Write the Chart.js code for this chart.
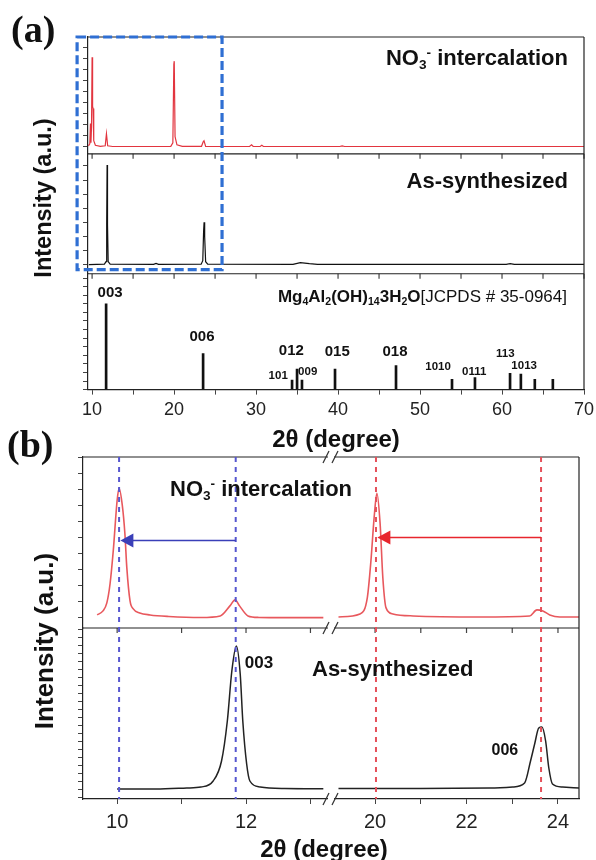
<!DOCTYPE html>
<html>
<head>
<meta charset="utf-8">
<script src="https://cdn.jsdelivr.net/npm/chart.js@4.4.1/dist/chart.umd.min.js"></script>
<style>
  body { margin: 0; background: #fff; }
  #page { position: relative; width: 596px; height: 860px; overflow: hidden; background: #fff; }
  canvas { position: absolute; }
  .t { position: absolute; font-family: 'Liberation Sans', Arial, sans-serif; font-weight: bold; color: #111; line-height: 1; white-space: nowrap; }
  .t sub, .t sup { font-size: 0.62em; line-height: 0; }
  .t sub { vertical-align: -0.3em; }
  .t sup { vertical-align: 0.6em; }
  .panel { font-family: 'Liberation Serif', 'Times New Roman', serif; font-size: 38px; color: #111; }
  .ytitle { transform: translate(-50%, -50%) rotate(-90deg); }
  .reg { font-weight: normal; }
</style>
</head>
<body>
<div id="page">
  <canvas id="chartA" width="596" height="458" style="left:0;top:0"></canvas>
  <canvas id="chartBL" width="333" height="400" style="left:0;top:440px"></canvas>
  <canvas id="chartBR" width="278" height="400" style="left:318px;top:440px"></canvas>

  <div class="t panel" style="left:11px;top:10px">(a)</div>
  <div class="t panel" style="left:7px;top:425px">(b)</div>

  <div class="t ytitle" style="left:44px;top:198px;font-size:23.5px">Intensity (a.u.)</div>
  <div class="t ytitle" style="left:44px;top:641px;font-size:26px">Intensity (a.u.)</div>

  <div class="t" style="right:28px;top:47px;font-size:22px">NO<sub>3</sub><sup>-</sup> intercalation</div>
  <div class="t" style="right:28px;top:170px;font-size:22px">As-synthesized</div>
  <div class="t" style="right:29px;top:288px;font-size:17px">Mg<sub>4</sub>Al<sub>2</sub>(OH)<sub>14</sub>3H<sub>2</sub>O<span class="reg">[JCPDS # 35-0964]</span></div>

  <div class="t" style="left:170px;top:478px;font-size:22px">NO<sub>3</sub><sup>-</sup> intercalation</div>
  <div class="t" style="left:312px;top:658px;font-size:22px">As-synthesized</div>
  <div class="t" style="left:324px;top:837px;font-size:24px;transform:translateX(-50%)">2θ (degree)</div>
</div>

<script>
// ---- (a) full scans, intensity in arbitrary units above baseline ----
const aNitX = [9.55, 9.72, 9.8, 9.86, 9.93, 10.0, 10.06, 10.12, 10.2, 10.4, 11.0, 11.6, 11.75, 11.9, 12.5,
  19.6, 19.85, 19.97, 20.02, 20.12, 20.35, 21.0, 23.35, 23.55, 23.65, 23.85,
  29.2, 29.45, 29.65, 30.5, 30.7, 30.9, 40.2, 40.5, 40.8, 70];
const aNitY = [1, 3, 23, 4, 20, 89, 40, 38, 6, 1.5, 0.5, 1, 13, 1, 0.3,
  0.5, 4, 82, 85, 10, 2, 0.5, 0.5, 5, 6, 0.5,
  0.3, 2, 0.3, 0.3, 1.5, 0.3, 0.3, 1, 0.3, 0.3];

const aAsX = [9.6, 11.5, 11.7, 11.78, 11.83, 11.88, 11.96, 12.2, 17.5, 17.8, 18.1,
  23.3, 23.5, 23.6, 23.66, 23.73, 23.85, 24.1, 34.5, 35.4, 36.5, 37.5, 60.5, 61.0, 61.5, 70];
const aAsY = [0, 0.5, 3, 40, 99, 40, 3, 0.5, 0.3, 1.2, 0.3,
  0.5, 4, 33, 42, 28, 3, 0.5, 0.3, 2, 1, 0.3, 0.3, 1, 0.3, 0.3];

// JCPDS 35-0964 reference lines
const refPos = [11.71, 23.54, 34.39, 35.0, 35.6, 39.63, 47.07, 53.9, 56.7, 60.98, 62.3, 64.0, 66.2];
const refInt = [100, 42, 11, 24, 11, 24, 28, 12, 14, 19, 18, 12, 12];
const refHkl = ['003', '006', '101', '012', '009', '015', '018', '1010', '0111', '113', '1013', '', ''];

// ---- (b) zoomed scans, left segment (9.5-13.3) and right segment (19-24.5) ----
const bNitLX = [9.69, 9.78, 9.84, 9.89, 9.94, 10.0, 10.03, 10.08, 10.12, 10.15, 10.2, 10.25, 10.35, 10.51,
  10.8, 11.3, 11.6, 11.75, 11.83, 11.9, 12.03, 12.2, 12.6, 13.2];
const bNitLY = [3, 7, 15, 34, 67, 117, 129, 112, 84, 50, 17, 9, 5, 3,
  1.5, 0.5, 2, 12, 18, 12, 2, 0.5, 0.3, 0.3];
const bNitRX = [19.2, 19.67, 19.83, 19.91, 19.98, 20.04, 20.11, 20.17, 20.24, 20.39, 20.83, 22.3,
  23.38, 23.54, 23.67, 23.82, 24.04, 24.46];
const bNitRY = [1, 4, 20, 57, 100, 124, 94, 40, 10, 4, 2, 1, 2, 8, 7, 3, 1, 1];

const bAsLX = [10.0, 10.6, 11.08, 11.3, 11.49, 11.62, 11.71, 11.78, 11.85, 11.91, 11.95, 12.01, 12.06, 12.22, 12.6, 13.2];
const bAsLY = [0, 0, 1, 2, 8, 28, 68, 118, 143, 115, 68, 25, 8, 2, 0.5, 0.3];
const bAsRX = [19.2, 21.0, 22.5, 23.01, 23.27, 23.4, 23.49, 23.58, 23.65, 23.73, 23.8, 23.88, 24.1, 24.46];
const bAsRY = [0.5, 0.5, 1, 2, 6, 28, 45, 61, 62, 48, 21, 5, 2, 1];

// peak positions marked in (b)
const shift003 = [11.84, 10.03];
const shift006 = [23.63, 20.02];

// where the hkl labels sit (2theta, relative intensity) and their size
const hklLabelAt = {
  '003': [12.2, 113, 15], '006': [23.4, 62, 15], '012': [34.3, 45, 15], '101': [32.7, 16.5, 11.5],
  '009': [36.3, 21, 11.5], '015': [39.9, 43.5, 15], '018': [46.95, 43.5, 15], '1010': [52.2, 27, 11.5],
  '0111': [56.6, 21, 11.5], '113': [60.4, 42, 11.5], '1013': [62.7, 28, 11.5]
};

const FONT = "'Liberation Sans', Arial, sans-serif";
Chart.defaults.font.family = FONT;
Chart.defaults.color = '#222';

const xy = (xs, ys) => xs.map((x, i) => ({ x: x, y: ys[i] }));

const yAxis = (stack, weight, min, max, step, hidden) => ({
  type: 'linear', position: 'left', stack: stack, stackWeight: weight,
  min: min, max: max,
  border: { display: !hidden, color: '#222', width: 1.2 },
  grid: { display: !hidden, drawOnChartArea: false, drawTicks: !hidden, tickLength: 5, color: '#444' },
  ticks: { display: false, stepSize: step, includeBounds: false }
});

const xAxis = (min, max, step, labelEvery, size, pad) => ({
  type: 'linear', min: min, max: max, offset: false,
  border: { color: '#222', width: 1.2 },
  grid: { drawOnChartArea: false, tickLength: 5, color: '#444', offset: false },
  ticks: {
    stepSize: step, includeBounds: false, autoSkip: false, maxRotation: 0, padding: pad,
    color: '#222', font: { size: size },
    callback: v => (Math.round(v) % labelEvery === 0 ? v : '')
  },
  // plot edges come from layout.padding only, not from label overhang
  afterFit: s => { s.paddingLeft = 0; s.paddingRight = 0; }
});

// frames, dashed guides, arrows and labels
const decor = {
  id: 'decor',
  afterDatasetsDraw(chart, args, o) {
    const ctx = chart.ctx, area = chart.chartArea, x = chart.scales.x;
    ctx.save();
    ctx.strokeStyle = '#222';
    ctx.lineWidth = 1.2;
    const panels = o.panels.map(id => chart.scales[id]);
    panels.forEach((s, i) => {
      ctx.beginPath();
      ctx.moveTo(area.left, s.top);
      ctx.lineTo(area.right, s.top);
      ctx.stroke();
      if (i < panels.length - 1) {
        ctx.strokeStyle = '#444';
        x.ticks.forEach(t => {
          const px = x.getPixelForValue(t.value);
          ctx.beginPath();
          ctx.moveTo(px, s.bottom);
          ctx.lineTo(px, s.bottom + 5);
          ctx.stroke();
        });
        ctx.strokeStyle = '#222';
      }
    });
    if (o.right) {
      ctx.beginPath();
      ctx.moveTo(area.right, area.top);
      ctx.lineTo(area.right, area.bottom);
      ctx.stroke();
    }
    (o.vlines || []).forEach(v => {
      const px = x.getPixelForValue(v.x);
      ctx.strokeStyle = v.color;
      ctx.lineWidth = 2;
      ctx.setLineDash([5, 5]);
      ctx.beginPath();
      ctx.moveTo(px, area.top);
      ctx.lineTo(px, area.bottom);
      ctx.stroke();
    });
    ctx.setLineDash([]);
    (o.arrows || []).forEach(a => {
      const y = chart.scales[a.axis].getPixelForValue(a.y);
      const x0 = x.getPixelForValue(a.from), x1 = x.getPixelForValue(a.to);
      ctx.strokeStyle = a.color;
      ctx.fillStyle = a.color;
      ctx.lineWidth = 1.6;
      ctx.beginPath();
      ctx.moveTo(x0, y);
      ctx.lineTo(x1 + 10, y);
      ctx.stroke();
      ctx.beginPath();
      ctx.moveTo(x1, y);
      ctx.lineTo(x1 + 13, y - 7);
      ctx.lineTo(x1 + 13, y + 7);
      ctx.closePath();
      ctx.fill();
    });
    if (o.box) {
      const b = o.box;
      const l = x.getPixelForValue(b.x0), r = x.getPixelForValue(b.x1);
      const t = chart.scales[b.axisTop].getPixelForValue(b.yTop);
      const btm = chart.scales[b.axisBottom].getPixelForValue(b.yBottom);
      ctx.strokeStyle = b.color;
      ctx.lineWidth = 3.2;
      ctx.setLineDash([9, 4]);
      ctx.strokeRect(l, t, r - l, btm - t);
      ctx.setLineDash([]);
    }
    if (o.breakAt) {
      const bx = area.left - 2;
      [panels[0].top, panels[0].bottom, panels[panels.length - 1].bottom].forEach(y => {
        ctx.fillStyle = '#fff';
        ctx.fillRect(bx - 3, y - 2, 6, 4);
        ctx.strokeStyle = '#333';
        ctx.lineWidth = 1.2;
        [-5, 4].forEach(dx => {
          ctx.beginPath();
          ctx.moveTo(bx + dx - 3, y + 6);
          ctx.lineTo(bx + dx + 3, y - 6);
          ctx.stroke();
        });
      });
    }
    ctx.fillStyle = '#111';
    ctx.textAlign = 'center';
    ctx.textBaseline = 'middle';
    (o.labels || []).forEach(l => {
      ctx.font = 'bold ' + l.size + 'px ' + FONT;
      ctx.fillText(l.text, x.getPixelForValue(l.x), chart.scales[l.axis].getPixelForValue(l.y));
    });
    ctx.restore();
  }
};

const hklLabels = refHkl.filter(h => h).map(h => ({
  text: h, x: hklLabelAt[h][0], y: hklLabelAt[h][1], size: hklLabelAt[h][2], axis: 'yBot'
}));

const common = {
  responsive: false,
  animation: false,
  events: [],
  devicePixelRatio: 1
};

// ---------- panel (a) ----------
const xA = xAxis(9.5, 70, 5, 10, 18, 5);
xA.title = { display: true, text: '2θ (degree)', color: '#111', font: { size: 24, weight: 'bold' }, padding: { top: 0, bottom: 0 } };

new Chart(document.getElementById('chartA'), {
  type: 'line',
  data: {
    datasets: [
      { data: xy(aNitX, aNitY), yAxisID: 'yTop', borderColor: '#e2353f', borderWidth: 1.2, pointRadius: 0, tension: 0 },
      { data: xy(aAsX, aAsY), yAxisID: 'yMid', borderColor: '#111', borderWidth: 1.2, pointRadius: 0, tension: 0 },
      { type: 'bar', data: xy(refPos, refInt), yAxisID: 'yBot', backgroundColor: '#111', barThickness: 2, grouped: false }
    ]
  },
  options: Object.assign({}, common, {
    layout: { padding: { left: 83, right: 12, top: 37, bottom: 3 } },
    plugins: {
      legend: { display: false },
      tooltip: { enabled: false },
      decor: {
        panels: ['yTop', 'yMid', 'yBot'], right: true,
        box: { x0: 8.17, x1: 25.85, axisTop: 'yTop', yTop: 109, axisBottom: 'yMid', yBottom: -5, color: '#2f6fd3' },
        labels: hklLabels
      }
    },
    scales: {
      x: xA,
      yBot: yAxis('a', 115, 0, 135, 10, false),
      yMid: yAxis('a', 119, -9, 110, 14, false),
      yTop: yAxis('a', 116, -7, 109, 11, false)
    }
  }),
  plugins: [decor]
});

// ---------- panel (b), left of the axis break ----------
new Chart(document.getElementById('chartBL'), {
  type: 'line',
  data: {
    datasets: [
      { data: xy(bNitLX, bNitLY), yAxisID: 'yTop', borderColor: '#e8585d', borderWidth: 1.6, pointRadius: 0, cubicInterpolationMode: 'monotone' },
      { data: xy(bAsLX, bAsLY), yAxisID: 'yBot', borderColor: '#222', borderWidth: 1.5, pointRadius: 0, cubicInterpolationMode: 'monotone' }
    ]
  },
  options: Object.assign({}, common, {
    layout: { padding: { left: 78, right: 0, top: 17, bottom: 0 } },
    plugins: {
      legend: { display: false },
      tooltip: { enabled: false },
      decor: {
        panels: ['yTop', 'yBot'], right: false,
        vlines: shift003.map(v => ({ x: v, color: '#5656d0' })),
        arrows: [{ from: shift003[0], to: shift003[1] + 0.02, y: 77, axis: 'yTop', color: '#3a3fb8' }],
        labels: [{ text: '003', x: 12.2, y: 126, size: 17, axis: 'yBot' }]
      }
    },
    scales: {
      x: xAxis(9.47, 13.35, 1, 2, 20, 6),
      yBot: yAxis('b', 1, -10, 161, 8, false),
      yTop: yAxis('b', 1, -10, 160, 16, false)
    }
  }),
  plugins: [decor]
});

// ---------- panel (b), right of the axis break ----------
new Chart(document.getElementById('chartBR'), {
  type: 'line',
  data: {
    datasets: [
      { data: xy(bNitRX, bNitRY), yAxisID: 'yTop', borderColor: '#e8585d', borderWidth: 1.6, pointRadius: 0, cubicInterpolationMode: 'monotone' },
      { data: xy(bAsRX, bAsRY), yAxisID: 'yBot', borderColor: '#222', borderWidth: 1.5, pointRadius: 0, cubicInterpolationMode: 'monotone' }
    ]
  },
  options: Object.assign({}, common, {
    layout: { padding: { left: 15, right: 17, top: 17, bottom: 0 } },
    plugins: {
      legend: { display: false },
      tooltip: { enabled: false },
      decor: {
        panels: ['yTop', 'yBot'], right: true, breakAt: true,
        vlines: shift006.map(v => ({ x: v, color: '#e5505a' })),
        arrows: [{ from: shift006[0], to: shift006[1] + 0.03, y: 80, axis: 'yTop', color: '#e8262d' }],
        labels: [{ text: '006', x: 22.84, y: 38, size: 16, axis: 'yBot' }]
      }
    },
    scales: {
      x: xAxis(19.08, 24.46, 1, 2, 20, 6),
      yBot: yAxis('b', 1, -10, 161, 8, true),
      yTop: yAxis('b', 1, -10, 160, 16, true)
    }
  }),
  plugins: [decor]
});
</script>
</body>
</html>
